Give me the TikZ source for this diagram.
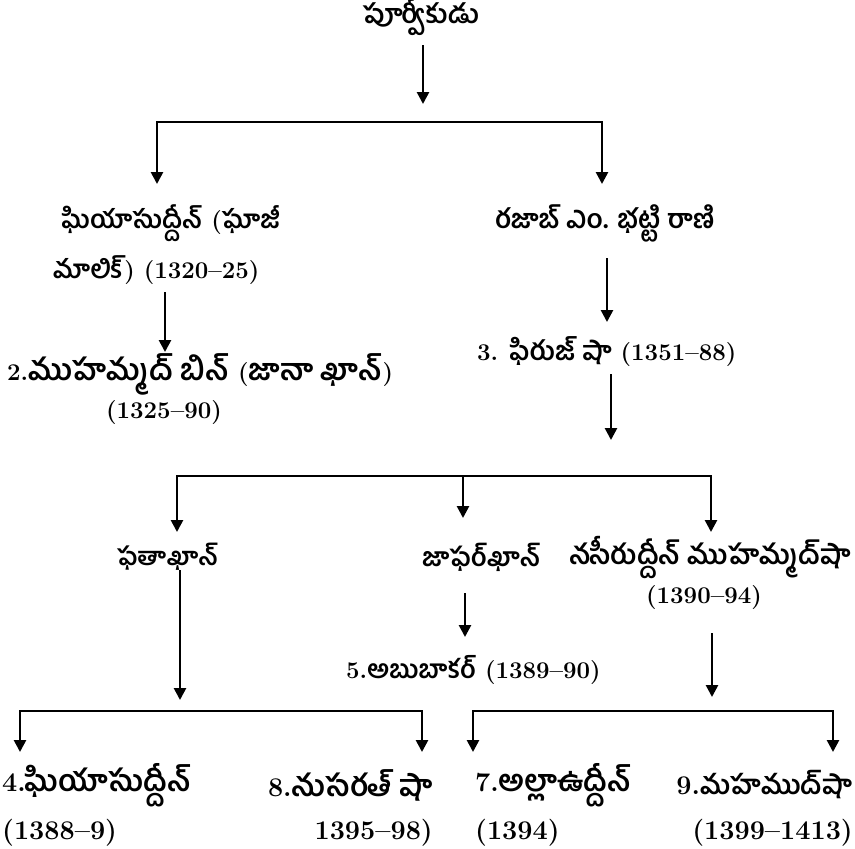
\documentclass[tikz,border=0pt]{standalone}
\usepackage{fontspec}
\usetikzlibrary{arrows.meta}
\newfontfamily\te[Script=Telugu]{Hind Guntur}
\def\tsz{26}
\newcommand\tl[1]{{\fontsize{\tsz}{\tsz}\te #1}}
\tikzset{
  ts/.code={\def\tsz{#1}},
  lbl/.style={inner sep=0pt, font=\bfseries\fontsize{24}{28}\selectfont},
  big/.style={font=\bfseries\fontsize{27}{30}\selectfont},
  conn/.style={line width=2.6pt, line join=miter},
  arr/.style={conn, -{Triangle[width=12pt,length=12pt]}},
}
\begin{document}
\begin{tikzpicture}[x=1pt,y=-1pt]
\useasboundingbox[fill=white] (0,0) rectangle (855,849);
% nodes
\node[lbl,ts=26.5] (root) at (421,17) {\tl{పూర్వీకుడు}};
\node[lbl,ts=25.5,anchor=west] (g1) at (62,223) {\tl{ఘియాసుద్దీన్} (\tl{ఘాజీ}};
\node[lbl,ts=25.5,anchor=west] (g2) at (53,270) {\tl{మాలిక్}) (1320--25)};
\node[lbl,ts=26.5,anchor=west] (raj) at (495,223) {\tl{రజాబ్ ఎం. భట్టి రాణి}};
\node[lbl,ts=26.5,anchor=west] (fir) at (477,352) {3. \tl{ఫిరుజ్ షా} (1351--88)};
\node[lbl,ts=30,anchor=west] (m1) at (7,374) {2.\tl{ముహమ్మద్ బిన్} (\tl{జానా ఖాన్})};
\node[lbl,anchor=west] (m2) at (106,413) {(1325--90)};
\node[lbl,ts=25,anchor=west] (fat) at (117,557) {\tl{ఫతాఖాన్}};
\node[lbl,ts=26,anchor=west] (zaf) at (422,557) {\tl{జాఫర్^^^^200cఖాన్}};
\node[lbl,ts=27.5,anchor=west] (nas) at (569,557) {\tl{నసీరుద్దీన్ ముహమ్మద్^^^^200cషా}};
\node[lbl,anchor=west] (nas2) at (646,598) {(1390--94)};
\node[lbl,ts=25.7,anchor=west] (abu) at (346,670) {5.\tl{అబుబాకర్} (1389--90)};
\node[lbl,big,ts=30,anchor=west] (g4) at (2,785) {4.\tl{ఘియాసుద్దీన్}};
\node[lbl,big,anchor=west] (g4b) at (2,833) {(1388--9)};
\node[lbl,big,ts=30,anchor=east] (nus) at (433,785) {8.\tl{నుసరత్ షా}};
\node[lbl,big,anchor=east] (nusb) at (433,833) {1395--98)};
\node[lbl,big,ts=30,anchor=west] (ala) at (475,785) {7.\tl{అల్లాఉద్దీన్}};
\node[lbl,big,anchor=west] (alab) at (475,833) {(1394)};
\node[lbl,big,ts=27,anchor=east] (mah) at (853,785) {9.\tl{మహముద్^^^^200cషా}};
\node[lbl,big,anchor=east] (mahb) at (853,833) {(1399--1413)};
% connector points
\coordinate (a1s) at (423,45);  \coordinate (a1e) at (423,104);
\coordinate (b1c) at (423,122); \coordinate (b1l) at (157,184); \coordinate (b1r) at (602,184);
\coordinate (a2s) at (165,292); \coordinate (a2e) at (165,352);
\coordinate (a3s) at (607,258); \coordinate (a3e) at (607,322);
\coordinate (a4s) at (611,374); \coordinate (a4e) at (611,440);
\coordinate (b2c) at (463,476); \coordinate (b2l) at (177,532); \coordinate (b2r) at (711,532); \coordinate (b2m) at (463,518);
\coordinate (a5s) at (180,570); \coordinate (a5e) at (180,700);
\coordinate (a6s) at (465,593); \coordinate (a6e) at (465,637);
\coordinate (a7s) at (712,633); \coordinate (a7e) at (712,697);
\coordinate (b3c) at (220,711); \coordinate (b3l) at (20,752); \coordinate (b3r) at (422,752);
\coordinate (b4c) at (650,711); \coordinate (b4l) at (473,752); \coordinate (b4r) at (833,752);
% connectors
\draw[arr] (a1s) -- (a1e);
\draw[arr] (b1c) -| (b1l);
\draw[arr] (b1c) -| (b1r);
\draw[arr] (a2s) -- (a2e);
\draw[arr] (a3s) -- (a3e);
\draw[arr] (a4s) -- (a4e);
\draw[arr] (b2c) -| (b2l);
\draw[arr] (b2c) -| (b2r);
\draw[arr] (b2c) -- (b2m);
\draw[arr] (a5s) -- (a5e);
\draw[arr] (a6s) -- (a6e);
\draw[arr] (a7s) -- (a7e);
\draw[arr] (b3c) -| (b3l);
\draw[arr] (b3c) -| (b3r);
\draw[arr] (b4c) -| (b4l);
\draw[arr] (b4c) -| (b4r);
\end{tikzpicture}
\end{document}
